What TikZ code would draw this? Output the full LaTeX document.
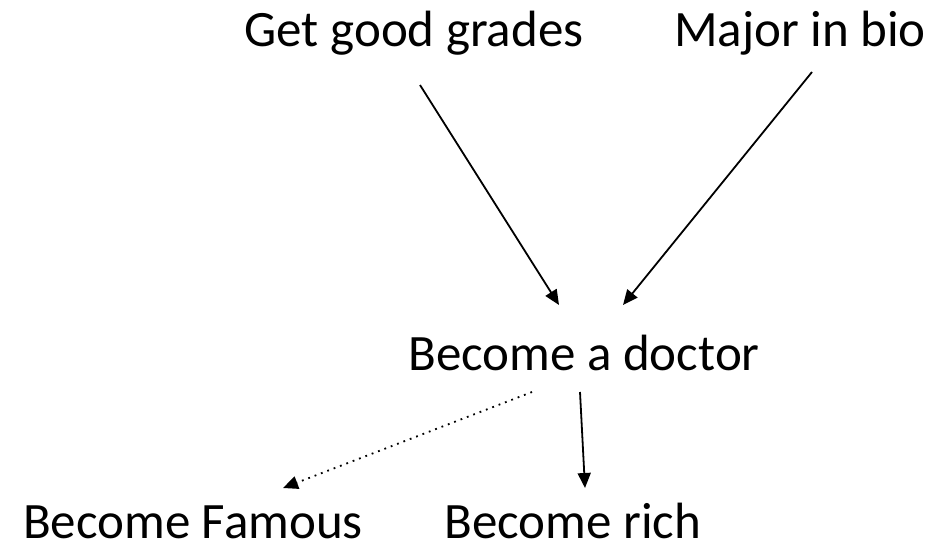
\documentclass[tikz,border=0pt]{standalone}
\usepackage{fontspec}
\setmainfont{Carlito}
\usetikzlibrary{arrows.meta}
\begin{document}
\begin{tikzpicture}[x=1pt,y=1pt,
	goal/.style={anchor=base,inner sep=0pt,font=\fontsize{51}{61}\selectfont},
	link/.style={line width=1.8pt,-{Triangle[length=15pt,width=13pt]}},
	maybe/.style={link,dash pattern=on 1.8pt off 5pt}]
			\useasboundingbox (0,0) rectangle (947,550);
			% goals
			\node[goal] (grades) at (414, 503) {Get good grades};
			\node[goal] (bio) at (800, 503) {Major in bio};
			\node[goal] (doctor) at (584, 180) {Become a doctor};
			\node[goal] (famous) at (193, 12) {Become Famous};
			\node[goal] (rich) at (573, 12) {Become rich};
			% causes
			\draw[link] ([shift={(6,-38)}]grades.base) -- ([shift={(-25,65)}]doctor.base);
			\draw[link] ([shift={(12,-25)}]bio.base) -- ([shift={(39,65)}]doctor.base);
			% effects
			\draw[maybe] ([shift={(-52,-22)}]doctor.base) -- ([shift={(90,50)}]famous.base);
			\draw[link] ([shift={(-4,-22)}]doctor.base) -- ([shift={(12,50)}]rich.base);
\end{tikzpicture}
\end{document}
